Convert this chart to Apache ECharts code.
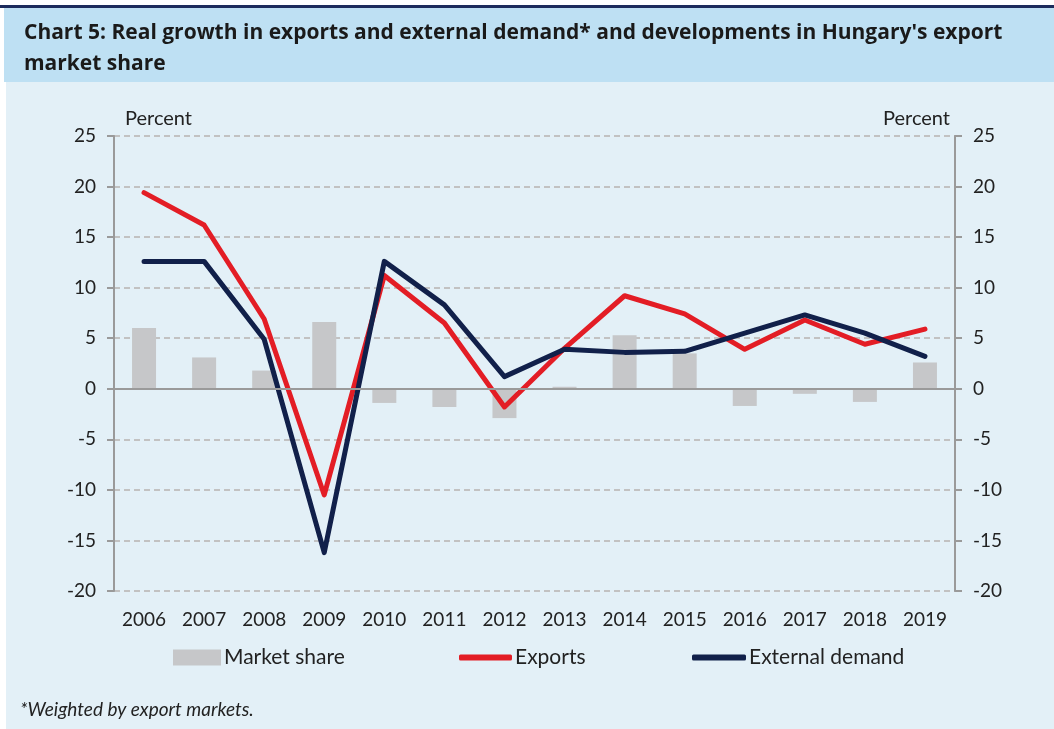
<!DOCTYPE html>
<html>
<head>
<meta charset="utf-8">
<script src="https://cdn.jsdelivr.net/npm/echarts@6/dist/echarts.min.js"></script>
<style>
  html, body { margin: 0; padding: 0; background: #fff; }
  #main { width: 1054px; height: 729px; }
</style>
</head>
<body>
<div id="main"></div>
<script>
var years = ['2006', '2007', '2008', '2009', '2010', '2011', '2012', '2013', '2014', '2015', '2016', '2017', '2018', '2019'];
var marketShare = [6.0, 3.1, 1.8, 6.6, -1.4, -1.8, -2.9, 0.2, 5.3, 3.5, -1.7, -0.5, -1.3, 2.6];
var exportsGrowth = [19.4, 16.2, 6.9, -10.5, 11.2, 6.5, -1.8, 4.0, 9.2, 7.4, 3.9, 6.8, 4.4, 5.9];
var externalDemand = [12.6, 12.6, 4.9, -16.2, 12.6, 8.3, 1.2, 3.9, 3.6, 3.7, 5.5, 7.3, 5.5, 3.2];

var FONT = 'Lato';
var myChart = echarts.init(document.getElementById('main'));

var yAxisBase = {
  type: 'value',
  min: -20,
  max: 25,
  interval: 5,
  axisLine: { show: true, lineStyle: { color: '#9a9a9a', width: 2 } },
  axisTick: { show: true, length: 7, lineStyle: { color: '#9a9a9a', width: 2 } },
  axisLabel: { fontFamily: FONT, fontSize: 19, color: '#222', margin: 18 },
  splitLine: { show: true, lineStyle: { color: '#c2c2c2', type: [6, 4], width: 2 } }
};

var legendText = { fontFamily: FONT, fontSize: 21, color: '#222', padding: [0, 0, 0, -2] };

var option = {
  animation: false,
  backgroundColor: '#ffffff',
  graphic: [
    { type: 'rect', shape: { x: 0, y: 5, width: 1054, height: 3 }, style: { fill: '#1c2b5c' } },
    { type: 'rect', shape: { x: 4, y: 8, width: 1050, height: 74 }, style: { fill: '#bee0f3' } },
    { type: 'rect', shape: { x: 6, y: 82, width: 1048, height: 647 }, style: { fill: '#e3f0f7' }, z: -10 },
    { type: 'text', left: 24, top: 18, style: {
        text: "Chart 5: Real growth in exports and external demand* and developments in Hungary's export\nmarket share",
        font: 'bold 21px "Open Sans"', fill: '#1a1a1a', lineHeight: 31 } },
    { type: 'text', left: 125, top: 109, style: { text: 'Percent', font: '20px ' + FONT, fill: '#222' } },
    { type: 'text', right: 104, top: 109, style: { text: 'Percent', font: '20px ' + FONT, fill: '#222' } },
    { type: 'text', left: 20, top: 700, style: { text: '*Weighted by export markets.', font: 'italic 19px ' + FONT, fill: '#222' } }
  ],
  grid: { left: 114, right: 99, top: 136, bottom: 138 },
  legend: [
    { left: 173, top: 647, padding: 0, itemWidth: 48, itemHeight: 16, itemGap: 4,
      textStyle: legendText, data: [{ name: 'Market share', icon: 'rect' }] },
    { left: 459, top: 647, padding: 0, itemWidth: 53, itemHeight: 6, itemGap: 4,
      textStyle: legendText, data: [{ name: 'Exports', icon: 'roundRect' }] },
    { left: 692, top: 647, padding: 0, itemWidth: 54, itemHeight: 6, itemGap: 4,
      textStyle: legendText, data: [{ name: 'External demand', icon: 'roundRect' }] }
  ],
  xAxis: {
    type: 'category',
    data: years,
    axisLine: { show: false, onZero: false },
    axisTick: { show: false },
    axisLabel: { fontFamily: FONT, fontSize: 19, color: '#222', margin: 19 },
    splitLine: { show: false }
  },
  yAxis: [
    Object.assign({}, yAxisBase, { position: 'left' }),
    Object.assign({}, yAxisBase, { position: 'right', splitLine: { show: false } })
  ],
  series: [
    {
      name: 'Market share',
      type: 'bar',
      barWidth: 24,
      itemStyle: { color: '#c6c7c9' },
      data: marketShare,
      markLine: {
        silent: true,
        symbol: 'none',
        label: { show: false },
        lineStyle: { color: '#9a9a9a', type: 'solid', width: 2 },
        data: [{ yAxis: 0 }]
      }
    },
    {
      name: 'Exports',
      type: 'line',
      showSymbol: false,
      symbol: 'none',
      lineStyle: { color: '#e31d25', width: 5, cap: 'round', join: 'round' },
      itemStyle: { color: '#e31d25' },
      data: exportsGrowth,
      z: 3
    },
    {
      name: 'External demand',
      type: 'line',
      showSymbol: false,
      symbol: 'none',
      lineStyle: { color: '#11204a', width: 5, cap: 'round', join: 'round' },
      itemStyle: { color: '#11204a' },
      data: externalDemand,
      z: 4
    }
  ]
};
myChart.setOption(option);
</script>
</body>
</html>
